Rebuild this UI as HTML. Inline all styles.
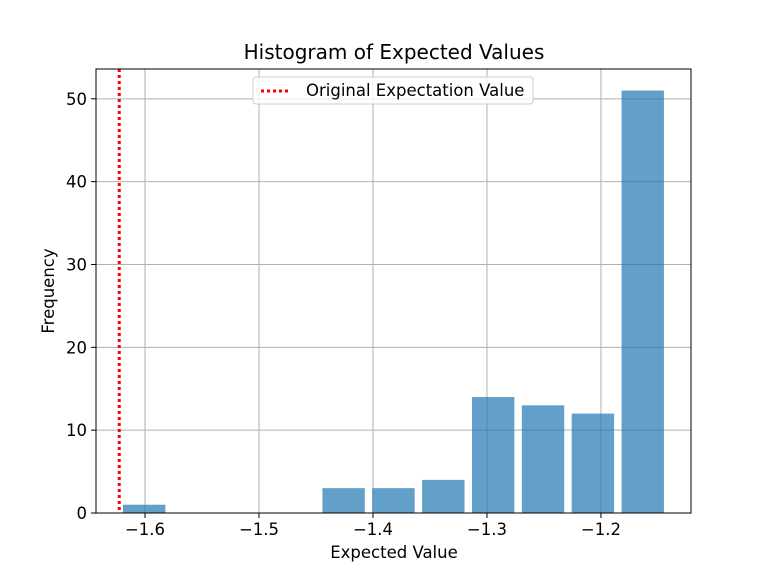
<!DOCTYPE html>
<html><head><meta charset="utf-8"><style>
body{margin:0;background:#fff}
text{font-family:"DejaVu Sans","Liberation Sans",sans-serif;fill:#000}
</style></head><body>
<svg id="chart" width="768" height="576" xmlns="http://www.w3.org/2000/svg">
<rect width="768" height="576" fill="#fff"/>
<text x="394" y="59" font-size="20" text-anchor="middle">Histogram of Expected Values</text>
<g id="grid"></g>
<g id="bars"></g>
<g id="ticks"></g>
<g id="refline"></g>
<rect x="96" y="69" width="595" height="444" fill="none" stroke="#000" stroke-width="1"/>
<text x="394" y="558" font-size="16.5" text-anchor="middle">Expected Value</text>
<text x="54" y="291" font-size="16.5" text-anchor="middle" transform="rotate(-90 54 291)">Frequency</text>
<g>
<rect x="253" y="77" width="280" height="27" rx="3" fill="#fff" fill-opacity="0.8" stroke="#ccc"/>
<line x1="261" y1="91" x2="291" y2="91" stroke="red" stroke-width="3" stroke-dasharray="3,3"/>
<text x="306" y="96" font-size="16.5">Original Expectation Value</text>
</g>
</svg>
<script>
const binStart = -1.6226;
const binWidth = 0.04374;
const counts = [1,0,0,0,3,3,4,14,13,12,51];
const xTicks = [-1.6,-1.5,-1.4,-1.3,-1.2];
const yTicks = [0,10,20,30,40,50];
const originalValue = -1.6226;
const X0=96,X1=691,Y0=513,Y1=69, xmin=-1.643, xmax=-1.121, ymin=0, ymax=53.6;
const sx=v=>X0+(v-xmin)/(xmax-xmin)*(X1-X0);
const sy=v=>Y0-(v-ymin)/(ymax-ymin)*(Y0-Y1);
const NS="http://www.w3.org/2000/svg";
function mk(tag,attrs,parent){const e=document.createElementNS(NS,tag);for(const k in attrs)e.setAttribute(k,attrs[k]);document.getElementById(parent).appendChild(e);return e;}
const fmt=v=>(v<0?"\u2212":"")+Math.abs(v).toFixed(1);
xTicks.forEach(t=>{
 const x=sx(t);
 const g=mk('line',{x1:x,x2:x,y1:Y1,y2:Y0,stroke:'#b0b0b0','stroke-width':1},'grid');
 
 
 const tk=mk('line',{x1:x,x2:x,y1:Y0,y2:Y0+5,stroke:'#000'},'ticks');
 
 
 const tx=mk('text',{x:x,y:Y0+22,'font-size':16.5,'text-anchor':'middle'},'ticks');
 tx.textContent=fmt(t);
 
 
});
yTicks.forEach(t=>{
 const y=sy(t);
 const g=mk('line',{x1:X0,x2:X1,y1:y,y2:y,stroke:'#b0b0b0','stroke-width':1},'grid');
 
 
 const tk=mk('line',{x1:X0-5,x2:X0,y1:y,y2:y,stroke:'#000'},'ticks');
 
 
 const tx=mk('text',{x:X0-9,y:y+6,'font-size':16.5,'text-anchor':'end'},'ticks');
 tx.textContent=t;
 
 
});
counts.forEach((c,i)=>{
 if(!c)return;
 const a=binStart+binWidth*i+binWidth*0.075, b=a+binWidth*0.85;
 const r=mk('rect',{x:sx(a),y:sy(c),width:sx(b)-sx(a),height:sy(0)-sy(c),fill:'#1f77b4','fill-opacity':0.7},'bars');
 
 
});
const rl=mk('line',{x1:sx(originalValue),x2:sx(originalValue),y1:Y1,y2:Y0,stroke:'red','stroke-width':3,'stroke-dasharray':'3,3'},'refline');


</script>
</body></html>
